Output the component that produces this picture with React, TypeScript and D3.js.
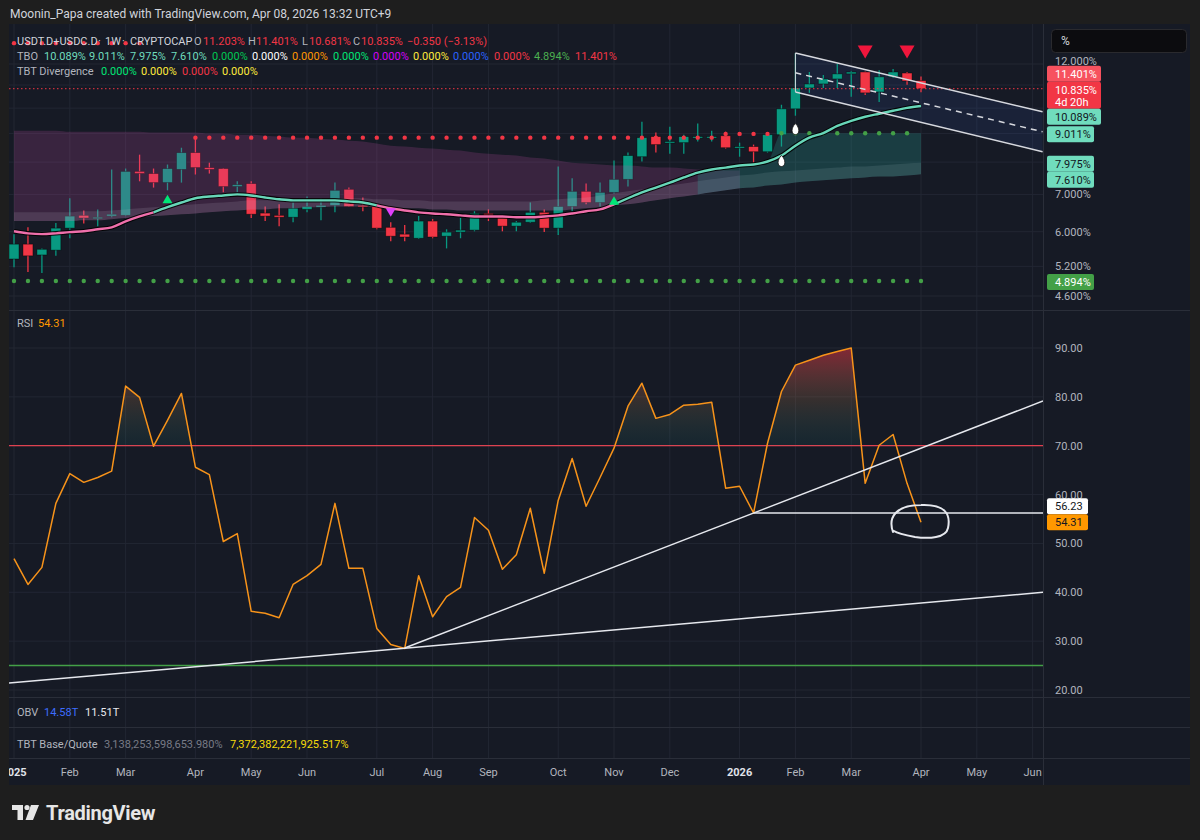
import React from "react";
import * as d3 from "d3";

const FONT = "Roboto, 'Noto Sans', 'DejaVu Sans', sans-serif";

// weekly bars, USDT.D + USDC.D (CRYPTOCAP), 1W
const firstBar = new Date(Date.UTC(2025, 0, 6));
const lastBar = new Date(Date.UTC(2026, 3, 6));
const barDates: Date[] = d3.utcMonday.range(firstBar, new Date(Date.UTC(2026, 3, 7)));

const open = [
  5.36, 5.70, 5.45, 5.56, 6.09, 6.42, 6.35, 6.40, 6.42, 7.70,
  7.63, 7.35, 7.76, 8.32, 7.82, 7.79, 7.23, 7.32, 6.48, 6.42,
  6.37, 6.58, 6.64, 6.69, 7.15, 6.69, 6.66, 6.11, 5.94, 5.84,
  6.27, 5.89, 5.99, 6.04, 6.47, 6.40, 6.14, 6.24, 6.50, 6.09,
  6.66, 7.09, 6.77, 7.06, 7.45, 8.18, 8.89, 8.67, 8.67, 8.85,
  8.85, 8.92, 8.49, 8.53, 8.35, 8.96, 9.97, 10.87, 11.05, 11.28,
  11.52, 11.61, 10.69, 11.38, 11.56, 11.203,
];
const high = [
  5.94, 6.11, 5.60, 6.22, 6.89, 6.55, 6.58, 7.76, 7.79, 8.25,
  7.79, 7.92, 8.49, 8.89, 7.98, 7.81, 7.39, 7.39, 6.66, 6.72,
  6.77, 6.94, 6.89, 7.35, 7.20, 6.91, 6.72, 6.24, 6.17, 6.40,
  6.32, 6.06, 6.35, 6.53, 6.58, 6.41, 6.27, 6.77, 6.58, 7.86,
  7.48, 7.32, 7.35, 8.05, 8.32, 9.45, 9.04, 9.26, 8.96, 9.38,
  9.11, 9.07, 8.67, 8.60, 9.04, 10.14, 12.55, 11.61, 11.47, 12.0,
  11.66, 11.63, 11.70, 11.75, 11.61, 11.401,
];
const low = [
  5.18, 5.08, 5.06, 5.43, 5.84, 6.21, 6.14, 6.37, 6.40, 7.39,
  7.20, 7.12, 7.35, 7.60, 7.63, 7.06, 7.06, 6.35, 6.27, 6.14,
  6.24, 6.50, 6.29, 6.50, 6.65, 6.53, 6.06, 5.77, 5.77, 5.82,
  5.84, 5.60, 5.84, 6.01, 6.27, 6.01, 6.01, 6.22, 5.99, 5.92,
  6.53, 6.72, 6.66, 7.03, 7.23, 8.02, 8.32, 8.28, 8.28, 8.71,
  8.71, 8.46, 8.18, 7.98, 8.32, 8.53, 9.69, 10.65, 10.87, 10.87,
  10.48, 10.56, 10.26, 11.33, 11.01, 10.681,
];
const close = [
  5.70, 5.43, 5.58, 6.09, 6.40, 6.35, 6.37, 6.45, 7.70, 7.63,
  7.35, 7.79, 8.32, 7.82, 7.76, 7.23, 7.29, 6.45, 6.40, 6.37,
  6.61, 6.66, 6.69, 7.12, 6.66, 6.66, 6.09, 5.89, 5.87, 6.27,
  5.87, 5.99, 6.04, 6.47, 6.40, 6.14, 6.24, 6.50, 6.09, 6.66,
  7.09, 6.77, 7.06, 7.45, 8.22, 8.85, 8.60, 8.71, 8.89, 8.89,
  8.89, 8.49, 8.53, 8.35, 8.96, 9.97, 10.87, 11.05, 11.28, 11.52,
  11.61, 10.65, 11.38, 11.61, 11.185, 10.835,
];

// TBO indicator
const tboFast = [
  6.01, 5.96, 5.94, 5.96, 5.99, 6.01, 6.06, 6.11, 6.26, 6.39,
  6.50, 6.64, 6.77, 6.89, 6.94, 6.97, 7.00, 6.97, 6.91, 6.86,
  6.83, 6.83, 6.83, 6.83, 6.80, 6.77, 6.69, 6.61, 6.55, 6.50,
  6.47, 6.45, 6.42, 6.39, 6.39, 6.39, 6.37, 6.37, 6.39, 6.42,
  6.47, 6.53, 6.58, 6.72, 6.89, 7.06, 7.20, 7.35, 7.51, 7.66,
  7.76, 7.82, 7.89, 7.92, 8.02, 8.22, 8.56, 8.85, 9.02, 9.29,
  9.49, 9.65, 9.77, 9.89, 10.01, 10.089,
];
const fastTrend = [
  { from: 0, to: 10, up: false },
  { from: 10, to: 26, up: true },
  { from: 26, to: 43, up: false },
  { from: 43, to: 65, up: true },
];
const tboMid: (number | null)[] = [
  13.08, 13.08, 13.08, 13.08, 13.08, 13.08, 13.08, 13.08, 13.08, 13.08,
  null, null, null, 8.85, 8.85, 8.85, 8.85, 8.85, 8.85, 8.85,
  8.85, 8.85, 8.85, 8.85, 8.85, 8.85, 8.85, 8.85, 8.85, 8.85,
  8.85, 8.85, 8.85, 8.85, 8.85, 8.85, 8.85, 8.85, 8.85, 8.85,
  8.85, 8.85, 8.85, 8.85, 8.85, 8.85, 8.85, 8.85, 8.85, 8.85,
  8.85, 8.99, 8.99, 8.99, 8.99, 9.011, 9.011, 9.011, 9.011, 9.011,
  9.011, 9.011, 9.011, 9.011, 9.011, null,
];
const midBullFrom = 55;
const tboFloor = 4.894;
const cloudTop = [
  9.11, 9.11, 9.11, 9.11, 9.07, 9.07, 9.07, 9.07, 9.07, 9.07,
  9.04, 9.04, 9.04, 9.04, 9.00, 9.00, 8.96, 8.96, 8.92, 8.89,
  8.85, 8.85, 8.81, 8.78, 8.74, 8.71, 8.64, 8.56, 8.53, 8.49,
  8.46, 8.42, 8.39, 8.32, 8.28, 8.25, 8.22, 8.15, 8.12, 8.05,
  7.98, 7.95, 7.92, 7.89, 7.89, 7.86, 7.82, 7.82, 7.79, 7.76,
  7.76, 7.73, 7.73,
];
const slowA = [
  6.50, 6.50, 6.50, 6.50, 6.50, 6.53, 6.53, 6.55, 6.58, 6.61,
  6.64, 6.66, 6.69, 6.72, 6.75, 6.77, 6.80, 6.83, 6.83, 6.86,
  6.86, 6.89, 6.89, 6.89, 6.89, 6.89, 6.86, 6.86, 6.83, 6.83,
  6.80, 6.80, 6.80, 6.80, 6.80, 6.80, 6.80, 6.80, 6.83, 6.86,
  6.89, 6.91, 6.97, 7.03, 7.09, 7.15, 7.20, 7.26, 7.32, 7.39,
  7.45, 7.51, 7.57, 7.60, 7.66, 7.70, 7.73, 7.76, 7.79, 7.82,
  7.86, 7.86, 7.89, 7.92, 7.95, 7.975,
];
const slowB = [
  6.27, 6.27, 6.27, 6.27, 6.27, 6.29, 6.29, 6.32, 6.35, 6.37,
  6.40, 6.42, 6.45, 6.47, 6.50, 6.53, 6.55, 6.58, 6.58, 6.61,
  6.61, 6.64, 6.64, 6.66, 6.66, 6.66, 6.64, 6.64, 6.61, 6.61,
  6.58, 6.58, 6.55, 6.55, 6.55, 6.55, 6.55, 6.55, 6.55, 6.55,
  6.58, 6.61, 6.64, 6.69, 6.72, 6.77, 6.83, 6.89, 6.94, 7.00,
  7.06, 7.12, 7.18, 7.20, 7.26, 7.29, 7.35, 7.39, 7.42, 7.45,
  7.48, 7.51, 7.54, 7.54, 7.57, 7.61,
];
const tealFrom = 49;
const tealTop = [
  7.66, 7.76, 7.82, 7.89, 7.92, 8.02, 9.011, 9.011, 9.011, 9.011,
  9.011, 9.011, 9.011, 9.011, 9.011, 9.011, 9.011,
];

const buySignals = [{ i: 11, v: 6.86 }, { i: 43, v: 6.82 }];
const sellSignals = [{ i: 27, v: 6.5 }];
const topSignals = [{ i: 61, v: 12.61 }, { i: 64, v: 12.61 }];
const dropSignals = [{ i: 55, v: 8.02 }, { i: 56, v: 9.15 }];

// drawn channel
const chanDates = [new Date(Date.UTC(2026, 1, 2)), new Date(Date.UTC(2026, 5, 6))];
const chanTop = [12.556, 9.85];
const chanMid = [11.57, 9.07];
const chanBot = [10.69, 8.35];

// RSI
const rsi = [
  46.9, 41.6, 45.1, 58.2, 64.3, 62.5, 63.5, 64.8, 82.2, 79.9,
  69.9, 75.2, 80.7, 65.6, 64.1, 50.4, 52.0, 36.1, 35.7, 34.8,
  41.6, 43.4, 45.7, 58.2, 44.9, 44.9, 32.6, 29.3, 28.5, 43.4,
  35.0, 39.1, 41.0, 55.3, 52.7, 44.7, 47.7, 57.2, 43.9, 58.8,
  67.4, 57.6, 63.5, 69.5, 78.1, 82.8, 75.6, 76.4, 78.3, 78.5,
  78.9, 61.3, 61.7, 56.23, 70.5, 81.1, 86.5, 87.5, 88.5, 89.3,
  90.0, 62.3, 70.1, 72.3, 62.3, 54.31,
];
const rsiTrendUp = { i: [28, 53], v: [28.6, 56.23] };
const rsiTrendLow = { i: [0, 65], v: [21.5, 37.8] };
const rsiLevel = { i: 53, v: 56.23 };
const rsiCircle = { i: 65, v: 54.8 };

const priceTicks = [12, 11, 10, 9, 8, 7, 6, 5.2, 4.6];
const priceLabelTicks = [12, 7, 6, 5.2, 4.6];
const rsiTicks = [20, 30, 40, 50, 60, 70, 80, 90];

const tboLegend = [
  { t: "10.089%", c: "#70dcbd", x: 44 },
  { t: "9.011%", c: "#70dcbd", x: 89 },
  { t: "7.975%", c: "#70dcbd", x: 130 },
  { t: "7.610%", c: "#70dcbd", x: 171 },
  { t: "0.000%", c: "#00c853", x: 212 },
  { t: "0.000%", c: "#ffffff", x: 252 },
  { t: "0.000%", c: "#ff9800", x: 292 },
  { t: "0.000%", c: "#00e676", x: 333 },
  { t: "0.000%", c: "#d500f9", x: 373 },
  { t: "0.000%", c: "#ffeb3b", x: 413 },
  { t: "0.000%", c: "#2962ff", x: 453 },
  { t: "0.000%", c: "#f23645", x: 494 },
  { t: "4.894%", c: "#4caf50", x: 534 },
  { t: "11.401%", c: "#f23645", x: 575 },
];
const divLegend = [
  { t: "0.000%", c: "#00e676", x: 101 },
  { t: "0.000%", c: "#ffeb3b", x: 141 },
  { t: "0.000%", c: "#f23645", x: 182 },
  { t: "0.000%", c: "#ffeb3b", x: 222 },
];

const L = 9;
const R = 1043;
const PANE_T = 24;
const PRICE_B = 310;
const RSI_B = 697;

function stack(items: any[], anchor: number) {
  for (let k = anchor - 1; k >= 0; k--) items[k].top = Math.min(items[k].top, items[k + 1].top - items[k].h);
  for (let k = anchor + 1; k < items.length; k++) items[k].top = Math.max(items[k].top, items[k - 1].top + items[k - 1].h);
  return items;
}

export default function App() {
  const x = d3.scaleUtc().domain([firstBar, lastBar]).range([14, 921]);
  const xb = (i: number) => x(barDates[i]);
  const yP = d3.scaleLog().domain([4.6, 12]).range([296, 64]);
  const yR = d3.scaleLinear().domain([20, 90]).range([690, 348]);
  const idx = d3.range(barDates.length);
  const upC = "#089981";
  const dnC = "#f23645";
  const fmt3 = d3.format(".3f");
  const fmt2 = d3.format(".2f");
  const last = idx.length - 1;

  const monthStarts = d3.utcMonth.range(new Date(Date.UTC(2025, 0, 1)), new Date(Date.UTC(2026, 6, 1)));
  const timeTicks = monthStarts.map((m) => ({
    x: x(d3.utcMonday.ceil(m)),
    label: m.getUTCMonth() === 0 ? String(m.getUTCFullYear()) : d3.utcFormat("%b")(m),
    year: m.getUTCMonth() === 0,
  }));

  const purplePath = d3
    .area<number>()
    .x((i) => xb(i))
    .y0((i) => yP(slowB[i]))
    .y1((i) => yP(cloudTop[i]))
    .curve(d3.curveMonotoneX)(d3.range(cloudTop.length));
  const greyPath = d3.area<number>().x((i) => xb(i)).y0((i) => yP(slowB[i])).y1((i) => yP(slowA[i])).curve(d3.curveMonotoneX)(idx);
  const tealPath = d3
    .area<number>()
    .x((i) => xb(i))
    .y0((i) => yP(slowB[i]))
    .y1((i) => yP(tealTop[i - tealFrom]))
    .curve(d3.curveMonotoneX)(d3.range(tealFrom, idx.length));
  const fastLine = d3.line<number>().x((i) => xb(i)).y((i) => yP(tboFast[i])).curve(d3.curveMonotoneX);

  const chanLine = (vals: number[]) => d3.line<number>().x((k) => x(chanDates[k])).y((k) => yP(vals[k]))([0, 1]);
  const chanFill =
    `M${x(chanDates[0])},${yP(chanTop[0])}L${x(chanDates[1])},${yP(chanTop[1])}` +
    `L${x(chanDates[1])},${yP(chanBot[1])}L${x(chanDates[0])},${yP(chanBot[0])}Z`;

  const rsiLine = d3.line<number>().x((i) => xb(i)).y((i) => yR(rsi[i]))(idx);
  const rsiArea = d3.area<number>().x((i) => xb(i)).y0(yR(70)).y1((i) => yR(rsi[i]))(idx);

  const extend = (t: { i: number[]; v: number[] }, xa: number, xz: number) => {
    const x1 = xb(t.i[0]), y1 = yR(t.v[0]), x2 = xb(t.i[1]), y2 = yR(t.v[1]);
    const k = (y2 - y1) / (x2 - x1);
    return `M${xa},${y1 + k * (xa - x1)}L${xz},${y1 + k * (xz - x1)}`;
  };

  const cx = xb(rsiCircle.i) - 2;
  const cy = yR(rsiCircle.v);
  const circlePath =
    `M${cx - 26},${cy + 12} C${cx - 31},${cy - 2} ${cx - 24},${cy - 15} ${cx + 2},${cy - 15} ` +
    `C${cx + 26},${cy - 16} ${cx + 32},${cy - 6} ${cx + 29},${cy + 8} ` +
    `C${cx + 27},${cy + 18} ${cx + 10},${cy + 19} ${cx - 4},${cy + 17} ` +
    `C${cx - 14},${cy + 15} ${cx - 22},${cy + 13} ${cx - 25},${cy + 11}`;

  const priceBadges = stack(
    [
      { v: high[last], fill: "#f7525f", color: "#fff", w: 54, h: 16 },
      { v: close[last], fill: "#f23645", color: "#fff", w: 54, h: 27, sub: "4d 20h" },
      { v: tboFast[last], fill: "#70dcbd", color: "#131722", w: 54, h: 16 },
      { v: tboMid[last - 1] as number, fill: "#70dcbd", color: "#131722", w: 47, h: 16 },
      { v: slowA[last], fill: "#70dcbd", color: "#131722", w: 47, h: 16 },
      { v: slowB[last], fill: "#70dcbd", color: "#131722", w: 47, h: 16 },
      { v: tboFloor, fill: "#43a047", color: "#fff", w: 47, h: 16 },
    ].map((b) => ({ ...b, top: yP(b.v) - 7 })),
    1
  );
  const priceLabels = priceLabelTicks.map((v) => {
    let by = yP(v) + 4;
    priceBadges.forEach((b) => {
      if (by > b.top && by - 9 < b.top + b.h) by = b.top - 1;
    });
    return { v, y: by };
  });
  const rsiBadges = stack(
    [
      { t: fmt2(rsiLevel.v), fill: "#ffffff", color: "#131722", w: 41, h: 16, top: yR(rsiLevel.v) - 8 },
      { t: fmt2(rsi[last]), fill: "#ff9800", color: "#131722", w: 41, h: 16, top: yR(rsi[last]) - 8 },
    ],
    1
  );

  const chg = close[last] - close[last - 1];
  const chgPct = (chg / close[last - 1]) * 100;
  const txt = { fontFamily: FONT, fontSize: 11 };

  return (
    <svg width={1200} height={840} style={{ position: "fixed", left: 0, top: 0, display: "block" }}>
      <defs>
        <clipPath id="priceClip">
          <rect x={L} y={PANE_T} width={R - L} height={PRICE_B - PANE_T} />
        </clipPath>
        <clipPath id="rsiClip">
          <rect x={L} y={PRICE_B + 1} width={R - L} height={RSI_B - PRICE_B - 1} />
        </clipPath>
        <clipPath id="obClip">
          <rect x={L} y={PRICE_B} width={R - L} height={yR(70) - PRICE_B} />
        </clipPath>
        <clipPath id="timeClip">
          <rect x={L} y={758} width={R - L} height={27} />
        </clipPath>
        <linearGradient id="obGrad" gradientUnits="userSpaceOnUse" x1={0} x2={0} y1={yR(90)} y2={yR(70)}>
          <stop offset="0" stopColor="#f23645" stopOpacity={0.5} />
          <stop offset="0.55" stopColor="#a07850" stopOpacity={0.22} />
          <stop offset="1" stopColor="#26a69a" stopOpacity={0.08} />
        </linearGradient>
      </defs>

      <rect width={1200} height={840} fill="#1e1e1e" />
      <rect x={L} y={PANE_T} width={1190 - L} height={785 - PANE_T} fill="#161a25" />

      <text x={10} y={18} fill="#d1d4dc" {...txt} fontSize={12}>
        Moonin_Papa created with TradingView.com, Apr 08, 2026 13:32 UTC+9
      </text>

      {/* grid */}
      <g stroke="#222633" strokeWidth={1}>
        {timeTicks.map((t, k) => (
          <line key={"vg" + k} x1={t.x} x2={t.x} y1={PANE_T} y2={758} />
        ))}
        {priceTicks.map((v) => (
          <line key={"pg" + v} x1={L} x2={R} y1={yP(v)} y2={yP(v)} />
        ))}
        {rsiTicks.map((v) => (
          <line key={"rg" + v} x1={L} x2={R} y1={yR(v)} y2={yR(v)} />
        ))}
      </g>

      {/* price pane */}
      <g clipPath="url(#priceClip)">
        <path d={chanFill} fill="rgba(60,100,200,0.12)" />
        {idx.map((i) => {
          const c = close[i] >= open[i] ? upC : dnC;
          const top = yP(Math.max(open[i], close[i]));
          const bot = yP(Math.min(open[i], close[i]));
          return (
            <g key={"c" + i}>
              <line x1={xb(i)} x2={xb(i)} y1={yP(high[i])} y2={yP(low[i])} stroke={c} strokeWidth={1.3} />
              <rect x={xb(i) - 5} y={top} width={10} height={Math.max(1.5, bot - top)} fill={c} stroke="rgba(0,0,0,0.5)" strokeWidth={0.8} />
            </g>
          );
        })}
        <path d={purplePath || ""} fill="rgba(200,80,170,0.2)" />
        <path d={greyPath || ""} fill="rgba(205,200,215,0.14)" />
        <path d={tealPath || ""} fill="rgba(38,166,154,0.25)" />

        <line x1={L} x2={R} y1={yP(close[last])} y2={yP(close[last])} stroke="#f23645" strokeWidth={1} strokeDasharray="1.5 2.5" />

        {idx.map((i) =>
          tboMid[i] == null ? null : (
            <circle key={"m" + i} cx={xb(i)} cy={yP(tboMid[i] as number)} r={2.2} fill={i >= midBullFrom ? "#43a047" : "#f23645"} />
          )
        )}
        {idx.map((i) => (
          <circle key={"f" + i} cx={xb(i)} cy={yP(tboFloor)} r={2.2} fill="#43a047" />
        ))}

        {fastTrend.map((s, k) => (
          <path key={"fs" + k} d={fastLine(d3.range(s.from, s.to + 1)) || ""} fill="none" stroke="rgba(0,0,0,0.85)" strokeWidth={4.5} />
        ))}
        {fastTrend.map((s, k) => (
          <path key={"fl" + k} d={fastLine(d3.range(s.from, s.to + 1)) || ""} fill="none" stroke={s.up ? "#67d6b8" : "#ef6fab"} strokeWidth={2.4} />
        ))}

        <g stroke="#d6d8de" strokeWidth={1.5} fill="none">
          <path d={chanLine(chanTop) || ""} />
          <path d={chanLine(chanBot) || ""} />
          <path d={chanLine(chanMid) || ""} strokeDasharray="6 5" />
          <line x1={x(chanDates[0])} x2={x(chanDates[0])} y1={yP(chanTop[0])} y2={yP(chanBot[0])} strokeWidth={1} />
        </g>

        {buySignals.map((s, k) => {
          const px = xb(s.i), py = yP(s.v);
          return <path key={"b" + k} d={`M${px},${py - 4.5}L${px + 5},${py + 4}L${px - 5},${py + 4}Z`} fill="#00e676" />;
        })}
        {sellSignals.map((s, k) => {
          const px = xb(s.i), py = yP(s.v);
          return <path key={"s" + k} d={`M${px - 5},${py - 4}L${px + 5},${py - 4}L${px},${py + 4.5}Z`} fill="#e040fb" />;
        })}
        {topSignals.map((s, k) => {
          const px = xb(s.i), py = yP(s.v);
          return <path key={"t" + k} d={`M${px - 7.5},${py - 6.5}L${px + 7.5},${py - 6.5}L${px},${py + 6.5}Z`} fill="#f0163c" />;
        })}
        {dropSignals.map((s, k) => {
          const px = xb(s.i), py = yP(s.v);
          return (
            <path
              key={"d" + k}
              d={`M${px},${py - 6}C${px + 4.5},${py - 2} ${px + 4.5},${py + 5} ${px},${py + 5}C${px - 4.5},${py + 5} ${px - 4.5},${py - 2} ${px},${py - 6}Z`}
              fill="#ffffff"
              stroke="#111"
              strokeWidth={0.8}
            />
          );
        })}
      </g>

      {/* price legend */}
      <g {...txt}>
        <text x={17} y={45} fill="#d1d4dc">USDT.D+USDC.D</text>
        <text x={98} y={45} fill="#d1d4dc">·</text>
        <text x={105} y={45} fill="#d1d4dc">1W</text>
        <text x={122} y={45} fill="#d1d4dc">·</text>
        <text x={130} y={45} fill="#d1d4dc">CRYPTOCAP</text>
        <text x={194} y={45} fill="#b2b5be">O</text>
        <text x={203} y={45} fill="#f23645">{fmt3(open[last])}%</text>
        <text x={248} y={45} fill="#b2b5be">H</text>
        <text x={256} y={45} fill="#f23645">{fmt3(high[last])}%</text>
        <text x={302} y={45} fill="#b2b5be">L</text>
        <text x={309} y={45} fill="#f23645">{fmt3(low[last])}%</text>
        <text x={353} y={45} fill="#b2b5be">C</text>
        <text x={361} y={45} fill="#f23645">{fmt3(close[last])}%</text>
        <text x={407} y={45} fill="#f23645">
          {fmt3(chg)} ({fmt2(chgPct)}%)
        </text>
        <text x={17} y={60} fill="#b2b5be">TBO</text>
        {tboLegend.map((d, k) => (
          <text key={"tl" + k} x={d.x} y={60} fill={d.c}>
            {d.t}
          </text>
        ))}
        <text x={17} y={75} fill="#b2b5be">TBT Divergence</text>
        {divLegend.map((d, k) => (
          <text key={"dl" + k} x={d.x} y={75} fill={d.c}>
            {d.t}
          </text>
        ))}
      </g>

      {/* pane separators */}
      <g stroke="#2a2e39" strokeWidth={1}>
        <line x1={L} x2={1190} y1={PRICE_B + 0.5} y2={PRICE_B + 0.5} />
        <line x1={L} x2={1190} y1={RSI_B + 0.5} y2={RSI_B + 0.5} />
        <line x1={L} x2={1190} y1={727.5} y2={727.5} />
        <line x1={L} x2={1190} y1={758.5} y2={758.5} />
        <line x1={R + 0.5} x2={R + 0.5} y1={PANE_T} y2={785} />
      </g>

      {/* RSI pane */}
      <g clipPath="url(#rsiClip)">
        <line x1={L} x2={R} y1={yR(70)} y2={yR(70)} stroke="#e0404f" strokeWidth={1.2} />
        <line x1={L} x2={R} y1={yR(25)} y2={yR(25)} stroke="#43a047" strokeWidth={1.4} />
        <path d={rsiArea || ""} fill="url(#obGrad)" clipPath="url(#obClip)" />
        <path d={rsiLine || ""} fill="none" stroke="#f7931a" strokeWidth={1.5} strokeLinejoin="round" />
        <g stroke="#e6e8ee" strokeWidth={1.5} fill="none">
          <path d={extend(rsiTrendUp, xb(rsiTrendUp.i[0]), R)} />
          <path d={extend(rsiTrendLow, L, R)} />
          <line x1={xb(rsiLevel.i)} x2={R} y1={yR(rsiLevel.v)} y2={yR(rsiLevel.v)} />
          <path d={circlePath} strokeWidth={2} strokeLinecap="round" />
        </g>
      </g>
      <g {...txt}>
        <text x={17} y={327} fill="#b2b5be">RSI</text>
        <text x={38} y={327} fill="#ff9800">{fmt2(rsi[last])}</text>
        <text x={17} y={716} fill="#b2b5be">OBV</text>
        <text x={44} y={716} fill="#3d6dff">14.58T</text>
        <text x={85} y={716} fill="#e6e8ee">11.51T</text>
        <text x={17} y={748} fill="#b2b5be">TBT Base/Quote</text>
        <text x={104} y={748} fill="#787b86">3,138,253,598,653.980%</text>
        <text x={230} y={748} fill="#f5d90a">7,372,382,221,925.517%</text>
      </g>

      {/* price axis */}
      <g {...txt} fill="#b2b5be">
        {priceLabels.map((p) => (
          <text key={"pl" + p.v} x={1055} y={p.y}>
            {fmt3(p.v)}%
          </text>
        ))}
        {rsiTicks.map((v) => (
          <text key={"rl" + v} x={1055} y={yR(v) + 4}>
            {fmt2(v)}
          </text>
        ))}
      </g>
      <rect x={1051.5} y={29.5} width={135} height={23} rx={4} fill="#0c0c0f" stroke="#2a2a2e" />
      <text x={1061} y={45} fill="#d1d4dc" {...txt} fontSize={12}>
        %
      </text>
      {priceBadges.map((b, k) => (
        <g key={"pb" + k}>
          <rect x={1047} y={b.top} width={b.w} height={b.h} rx={2} fill={b.fill} />
          <text x={1055} y={b.top + 12} fill={b.color} {...txt}>
            {fmt3(b.v)}%
          </text>
          {b.sub ? (
            <text x={1055} y={b.top + 24} fill={b.color} {...txt}>
              {b.sub}
            </text>
          ) : null}
        </g>
      ))}
      {rsiBadges.map((b, k) => (
        <g key={"rb" + k}>
          <rect x={1047} y={b.top} width={b.w} height={b.h} rx={2} fill={b.fill} />
          <text x={1055} y={b.top + 12} fill={b.color} {...txt}>
            {b.t}
          </text>
        </g>
      ))}

      {/* time axis */}
      <g clipPath="url(#timeClip)" {...txt} textAnchor="middle">
        {timeTicks.map((t, k) => (
          <text key={"tt" + k} x={t.x} y={776} fill={t.year ? "#e0e3eb" : "#b2b5be"} fontWeight={t.year ? 700 : 400}>
            {t.label}
          </text>
        ))}
      </g>

      {/* footer logo */}
      <g fill="#e6e6e6">
        <path d="M12,805 H23 V820 H17.5 V810 H12 Z" />
        <circle cx={27} cy={807.5} r={2.6} />
        <path d="M31,805 H39 L33,820 H25.5 Z" />
        <text x={46} y={820} fontFamily={FONT} fontSize={20} fontWeight={700} letterSpacing={-0.3}>
          TradingView
        </text>
      </g>
    </svg>
  );
}
